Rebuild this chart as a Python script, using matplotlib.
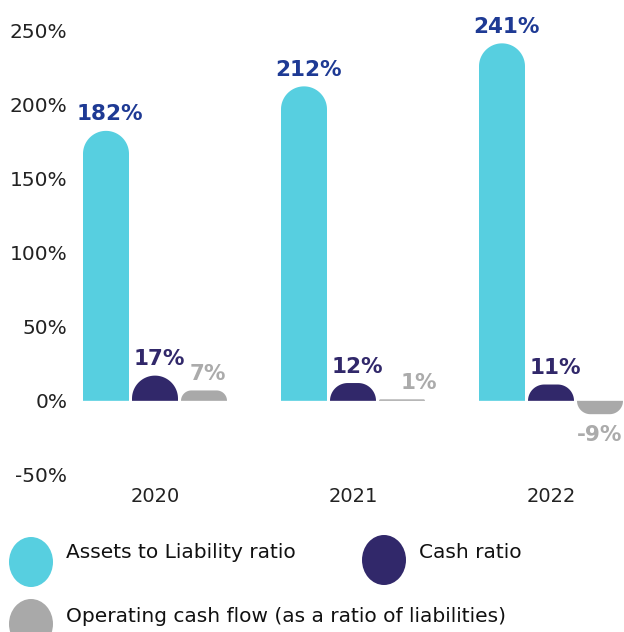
import numpy as np
import matplotlib
matplotlib.use("Agg")
import matplotlib.pyplot as plt
from matplotlib.patches import Polygon, Ellipse

plt.rcParams['font.family'] = ['DejaVu Sans']

years = ["2020", "2021", "2022"]
series_names = ["Assets to Liability ratio", "Cash ratio",
                "Operating cash flow (as a ratio of liabilities)"]
assets = [182, 212, 241]
cash = [17, 12, 11]
opcf = [7, 1, -9]
yticks = [-50, 0, 50, 100, 150, 200, 250]

colors = ["#57CFE0", "#31286A", "#A9A9A9"]
label_colors = ["#1E3A94", "#31286A", "#ABABAB"]

W, H = 624, 632
fig = plt.figure(figsize=(W / 100, H / 100), dpi=100)
ax_l, ax_r = 70, 624
ax_t, ax_b = 30, 475
ax = fig.add_axes([ax_l / W, 1 - ax_b / H, (ax_r - ax_l) / W, (ax_b - ax_t) / H])

spacing_px = 198.0
c0 = 155.0
xmin = (ax_l - c0) / spacing_px
xmax = (ax_r - c0) / spacing_px
ax.set_xlim(xmin, xmax)
ax.set_ylim(-50, 250)

px_x = (ax_r - ax_l) / (xmax - xmin)
px_y = (ax_b - ax_t) / 300.0

bw = 46 / spacing_px
offs = [-49 / spacing_px, 0, 49 / spacing_px]


def rounded_bar(x, h, color):
    x0, x1 = x - bw / 2, x + bw / 2
    s = 1 if h >= 0 else -1
    r_px = min(bw * px_x / 2, abs(h) * px_y)
    rx, ry = r_px / px_x, r_px / px_y
    t = np.linspace(0, np.pi / 2, 25)
    pts = [(x0, 0), (x0, h - s * ry)]
    for a in t:
        pts.append((x0 + rx - rx * np.cos(a), h - s * ry + s * ry * np.sin(a)))
    for a in t:
        pts.append((x1 - rx + rx * np.sin(a), h - s * ry + s * ry * np.cos(a)))
    pts.append((x1, 0))
    ax.add_patch(Polygon(pts, closed=True, facecolor=color, edgecolor='none'))


all_series = [assets, cash, opcf]
for si, vals in enumerate(all_series):
    for i, v in enumerate(vals):
        x = i + offs[si]
        rounded_bar(x, v, colors[si])
        if v >= 0:
            dx = 12 if abs(v) < 3 else 3
            ax.annotate(f"{v}%", (x, v), xytext=(dx, 7.5), textcoords='offset points',
                        ha='center', va='baseline', fontsize=15.5, fontweight='bold',
                        color=label_colors[si])
        else:
            ax.annotate(f"{v}%", (x, v), xytext=(0, -8), textcoords='offset points',
                        ha='center', va='top', fontsize=15.5, fontweight='bold',
                        color=label_colors[si])

ax.set_yticks(yticks)
ax.set_yticklabels([f"{t}%" for t in yticks], fontsize=14.5, color="#222222")
ax.set_xticks(range(len(years)))
ax.set_xticklabels(years, fontsize=14, color="#222222")
ax.tick_params(length=0, axis='y', pad=2)
ax.tick_params(length=0, axis='x', pad=9)
for sp in ax.spines.values():
    sp.set_visible(False)
ax.set_facecolor('none')

# legend
leg = [(31, 562, 66, 553), (384, 560, 419, 553), (31, 624, 66, 617)]
for (cx, cy, tx, ty), name, col in zip(leg, series_names, colors):
    fig.patches.append(Ellipse((cx / W, 1 - cy / H), 44 / W, 50 / H,
                               transform=fig.transFigure, facecolor=col,
                               edgecolor='none'))
    fig.text(tx / W, 1 - ty / H, name, fontsize=14.5, color="#111111",
             ha='left', va='center')

fig.savefig("out.png", dpi=100)
